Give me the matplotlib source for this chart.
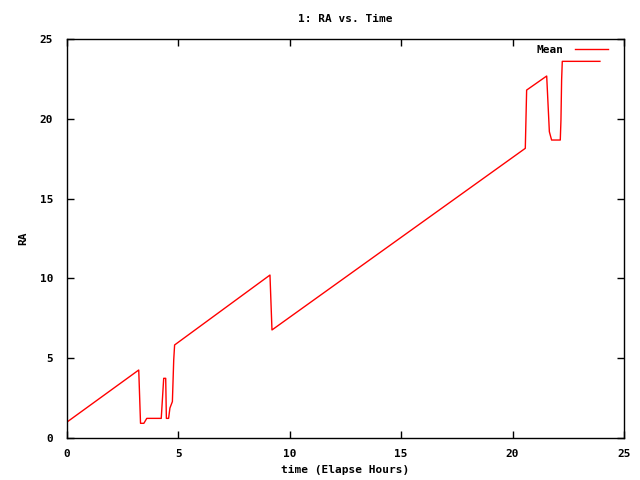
import matplotlib
matplotlib.use("Agg")
import matplotlib.pyplot as plt

hours = [0.0, 3.22, 3.30, 3.45, 3.58, 4.23, 4.34, 4.43, 4.46, 4.56, 4.62, 4.73, 4.79, 4.83,
         9.11, 9.20, 20.57, 20.63, 21.53, 21.65, 21.75, 22.14, 22.17, 22.20, 22.23, 23.92]
ra_mean = [1.0, 4.26, 0.92, 0.92, 1.23, 1.23, 3.74, 3.74, 1.23, 1.23, 1.88, 2.28, 4.89, 5.83,
           10.21, 6.77, 18.15, 21.8, 22.68, 19.19, 18.67, 18.67, 19.9, 22.43, 23.6, 23.6]
xticks = [0, 5, 10, 15, 20, 25]
yticks = [0, 5, 10, 15, 20, 25]

font = {"family": "DejaVu Sans Mono", "weight": "bold", "size": 8}

fig = plt.figure(figsize=(6.4, 4.8), dpi=100)
ax = fig.add_axes([67/640, 42/480, 557/640, 399/480])
ax.plot(hours, ra_mean, color="red", linewidth=1, label="Mean")
ax.set_xlim(0, 25)
ax.set_ylim(0, 25)
ax.set_xticks(xticks)
ax.set_yticks(yticks)
ax.set_xticklabels([str(t) for t in xticks], fontdict=font)
ax.set_yticklabels([str(t) for t in yticks], fontdict=font)
ax.tick_params(axis="x", direction="in", length=5, width=1, top=True, pad=8)
ax.tick_params(axis="y", direction="in", length=5, width=1, right=True, pad=10)
for s in ax.spines.values():
    s.set_linewidth(1)
ax.set_title("1: RA vs. Time", fontdict=font, pad=12.5)
ax.set_xlabel("time (Elapse Hours)", fontdict=font, labelpad=4)
ax.set_ylabel("RA", fontdict=font, rotation=90, labelpad=8, va="bottom")
leg = ax.legend(loc="upper right", frameon=False,
                prop={"family": "DejaVu Sans Mono", "weight": "bold", "size": 8},
                markerfirst=False, handlelength=3.0, handletextpad=1.0, borderaxespad=0.2,
                bbox_to_anchor=(1 - 9/557, 1 + 1/399))
fig.savefig("out.png", dpi=100)
